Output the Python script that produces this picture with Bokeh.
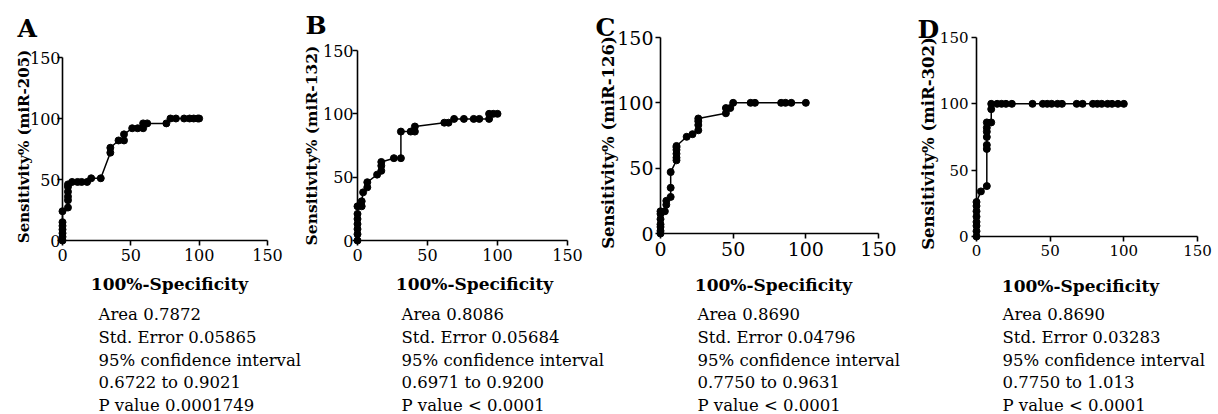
import math
from bokeh.plotting import figure
from bokeh.models import Label, FixedTicker, Range1d, LinearAxis
from bokeh.embed import file_html
from bokeh.resources import INLINE

# ---------------- data ----------------
panel_letters = ["A", "B", "C", "D"]
mirnas = ["miR-205", "miR-132", "miR-126", "miR-302"]

fpr_a = [0, 0, 0, 0, 0, 0, 0, 4, 4, 4, 4, 4, 4, 7, 11, 14, 18, 21, 28, 35, 35, 41, 45, 45,
         51, 55, 59, 59, 62, 76, 79, 83, 89, 93, 96, 99, 100]
tpr_a = [0, 3, 6, 9, 12, 15, 24, 27, 33, 36, 40, 44, 46, 48, 48, 48, 48, 51, 51, 72, 76, 82, 82, 87,
         92, 92, 92, 96, 96, 96, 100, 100, 100, 100, 100, 100, 100]

fpr_b = [0, 0, 0, 0, 0, 0, 0, 3, 3, 4, 7, 7, 14, 17, 17, 17, 26, 31, 31, 38, 41, 41,
         62, 65, 69, 76, 83, 87, 94, 94, 97, 100]
tpr_b = [0, 5, 9, 13, 17, 21, 27, 27, 31, 38, 42, 46, 52, 55, 59, 62, 65, 65, 86, 86, 86, 90,
         93, 93, 96, 96, 96, 96, 96, 100, 100, 100]

fpr_c = [0, 0, 0, 0, 0, 0, 0, 3, 4, 4, 7, 7, 7, 11, 11, 11, 11, 11, 11, 18, 22, 26, 26, 26, 26,
         45, 45, 48, 50, 62, 65, 83, 86, 90, 100]
tpr_c = [0, 2, 5, 7, 11, 15, 17, 17, 22, 25, 28, 35, 47, 56, 58, 61, 64, 66, 67, 74, 76, 79, 83, 86, 88,
         92, 96, 96, 100, 100, 100, 100, 100, 100, 100]

fpr_d = [0, 0, 0, 0, 0, 0, 0, 0, 3, 7, 7, 7, 7, 7, 7, 7, 10, 10, 10, 14, 17, 20, 24, 38,
         45, 48, 51, 55, 58, 68, 72, 79, 82, 85, 89, 92, 96, 100]
tpr_d = [0, 4, 8, 11, 15, 19, 23, 26, 34, 38, 66, 69, 75, 79, 82, 86, 86, 96, 100, 100, 100, 100, 100, 100,
         100, 100, 100, 100, 100, 100, 100, 100, 100, 100, 100, 100, 100, 100]

stats_a = ["Area 0.7872", "Std. Error 0.05865", "95% confidence interval",
           "0.6722 to 0.9021", "P value 0.0001749"]
stats_b = ["Area 0.8086", "Std. Error 0.05684", "95% confidence interval",
           "0.6971 to 0.9200", "P value < 0.0001"]
stats_c = ["Area 0.8690", "Std. Error 0.04796", "95% confidence interval",
           "0.7750 to 0.9631", "P value < 0.0001"]
stats_d = ["Area 0.8690", "Std. Error 0.03283", "95% confidence interval",
           "0.7750 to 1.013", "P value < 0.0001"]

axis_ticks = [0, 50, 100, 150]
axis_max = 150
x_title = "100%-Specificity"
y_title_prefix = "Sensitivity%"

# ---------------- layout (pixel positions / styles only) ----------------
SERIF = "DejaVu Serif"
W, H = 1218, 414
# x0/x150, y0/y150: page-pixel positions of the axis ends of each panel
geoms = [
    dict(x0=62, x150=267, y0=240, y150=57, tfs=16, ystand=-3,
         letter=(17, 27.5), ylab=(23, 146), ylfs=15, xt=(169, 283), st=98),
    dict(x0=357, x150=567, y0=240, y150=50, tfs=16, ystand=-1,
         letter=(305, 25), ylab=(311, 145), ylfs=15.5, xt=(474, 283), st=401),
    dict(x0=660, x150=878, y0=233, y150=37, tfs=19, ystand=2,
         letter=(595, 27), ylab=(607.5, 142), ylfs=16.5, xt=(773, 284), st=697),
    dict(x0=976, x150=1197, y0=236, y150=37, tfs=15, ystand=3,
         letter=(917, 28.5), ylab=(927.5, 143), ylfs=16.5, xt=(1080, 285), st=1002),
]

series = [(fpr_a, tpr_a, stats_a), (fpr_b, tpr_b, stats_b),
          (fpr_c, tpr_c, stats_c), (fpr_d, tpr_d, stats_d)]

p = figure(width=W, height=H, x_range=Range1d(0, W), y_range=Range1d(0, H),
           x_axis_location=None, y_axis_location=None,
           min_border=0, min_border_left=0, min_border_right=0,
           min_border_top=0, min_border_bottom=0,
           output_backend="svg", toolbar_location=None,
           background_fill_color="white", border_fill_color="white")
p.outline_line_color = None
p.grid.visible = False


def lab(px, py, text, **kw):
    # px, py: page pixel position from the top-left corner
    p.add_layout(Label(x=px, y=H - py, x_units="screen", y_units="screen",
                       text=text, text_font=SERIF, text_color="black", **kw))


for i, g in enumerate(geoms):
    fx, ty, stats = series[i]
    nm = panel_letters[i]
    sx = (g["x150"] - g["x0"]) / axis_max          # px per unit
    sy = (g["y0"] - g["y150"]) / axis_max
    p.extra_x_ranges[nm] = Range1d(-g["x0"] / sx, (W - g["x0"]) / sx)
    p.extra_y_ranges[nm] = Range1d(-(H - g["y0"]) / sy, g["y0"] / sy)

    xaxis = LinearAxis(x_range_name=nm, y_range_name=nm, fixed_location=0, bounds=(0, axis_max))
    yaxis = LinearAxis(x_range_name=nm, y_range_name=nm, fixed_location=0, bounds=(0, axis_max))
    for ax in (xaxis, yaxis):
        ax.ticker = FixedTicker(ticks=axis_ticks)
        ax.axis_line_color = "black"
        ax.axis_line_width = 1.6
        ax.major_tick_line_color = "black"
        ax.major_tick_line_width = 1.6
        ax.major_tick_out = 5
        ax.major_tick_in = 0
        ax.minor_tick_line_color = None
        ax.major_label_text_font = SERIF
        ax.major_label_text_font_size = f"{g['tfs']}px"
        ax.major_label_text_color = "black"
    xaxis.major_label_standoff = 3
    yaxis.major_label_standoff = g["ystand"]
    p.add_layout(xaxis, "below")
    p.add_layout(yaxis, "left")

    p.line(fx, ty, line_color="black", line_width=1.5, x_range_name=nm, y_range_name=nm)
    p.scatter(fx, ty, size=7, fill_color="black", line_color="black",
              x_range_name=nm, y_range_name=nm)

    lab(g["letter"][0], g["letter"][1], nm,
        text_font_size="25px", text_font_style="bold",
        text_align="left", text_baseline="middle")
    lab(g["ylab"][0], g["ylab"][1], f"{y_title_prefix} ({mirnas[i]})",
        text_font_size=f"{g['ylfs']}px", text_font_style="bold", angle=math.pi / 2,
        text_align="center", text_baseline="middle")
    lab(g["xt"][0], g["xt"][1], x_title,
        text_font_size="17px", text_font_style="bold",
        text_align="center", text_baseline="middle")
    for k, line in enumerate(stats):
        lab(g["st"], 314 + 22.75 * k, line, text_font_size="16.5px",
            text_align="left", text_baseline="middle")

open("out.html", "w").write(file_html(p, INLINE))
